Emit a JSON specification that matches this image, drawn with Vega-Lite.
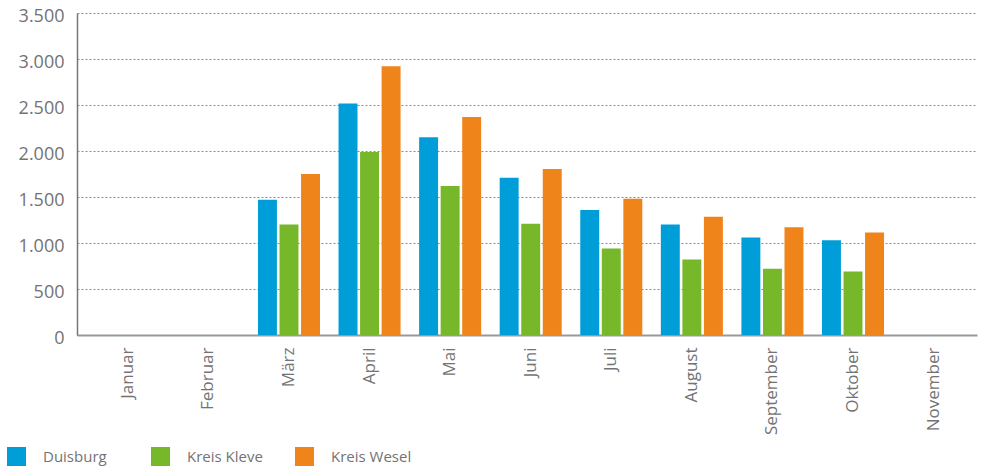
{
  "$schema": "https://vega.github.io/schema/vega-lite/v6.json",
  "width": 900,
  "height": 322,
  "autosize": {"type": "none"},
  "padding": {"left": 77, "top": 13, "right": 4, "bottom": 132},
  "background": "white",
  "config": {
    "view": {"stroke": null},
    "font": "Open Sans"
  },
  "data": {
    "values": [
      {"monat": "März", "region": "Duisburg", "wert": 1470},
      {"monat": "März", "region": "Kreis Kleve", "wert": 1200},
      {"monat": "März", "region": "Kreis Wesel", "wert": 1750},
      {"monat": "April", "region": "Duisburg", "wert": 2515},
      {"monat": "April", "region": "Kreis Kleve", "wert": 1990},
      {"monat": "April", "region": "Kreis Wesel", "wert": 2920},
      {"monat": "Mai", "region": "Duisburg", "wert": 2150},
      {"monat": "Mai", "region": "Kreis Kleve", "wert": 1620},
      {"monat": "Mai", "region": "Kreis Wesel", "wert": 2370},
      {"monat": "Juni", "region": "Duisburg", "wert": 1710},
      {"monat": "Juni", "region": "Kreis Kleve", "wert": 1210},
      {"monat": "Juni", "region": "Kreis Wesel", "wert": 1805},
      {"monat": "Juli", "region": "Duisburg", "wert": 1360},
      {"monat": "Juli", "region": "Kreis Kleve", "wert": 940},
      {"monat": "Juli", "region": "Kreis Wesel", "wert": 1480},
      {"monat": "August", "region": "Duisburg", "wert": 1200},
      {"monat": "August", "region": "Kreis Kleve", "wert": 820},
      {"monat": "August", "region": "Kreis Wesel", "wert": 1285},
      {"monat": "September", "region": "Duisburg", "wert": 1060},
      {"monat": "September", "region": "Kreis Kleve", "wert": 720},
      {"monat": "September", "region": "Kreis Wesel", "wert": 1170},
      {"monat": "Oktober", "region": "Duisburg", "wert": 1030},
      {"monat": "Oktober", "region": "Kreis Kleve", "wert": 690},
      {"monat": "Oktober", "region": "Kreis Wesel", "wert": 1115}
    ]
  },
  "mark": {"type": "bar"},
  "encoding": {
    "x": {
      "field": "monat",
      "type": "nominal",
      "sort": null,
      "scale": {
        "domain": ["Januar", "Februar", "März", "April", "Mai", "Juni", "Juli", "August", "September", "Oktober", "November"],
        "paddingInner": 0.23,
        "paddingOuter": 0.2,
        "align": 0.615
      },
      "axis": {
        "title": null,
        "labelAngle": -90,
        "labelAlign": "right",
        "labelBaseline": "middle",
        "labelFont": "Open Sans",
        "labelFontSize": 17,
        "labelColor": "#737373",
        "labelPadding": 12,
        "ticks": false,
        "tickSize": 0,
        "domainColor": "#999999",
        "domainWidth": 2,
        "grid": false
      }
    },
    "xOffset": {
      "field": "region",
      "type": "nominal",
      "scale": {"paddingInner": 0.12, "paddingOuter": 0}
    },
    "y": {
      "field": "wert",
      "type": "quantitative",
      "scale": {"domain": [0, 3500], "nice": false},
      "axis": {
        "title": null,
        "values": [0, 500, 1000, 1500, 2000, 2500, 3000, 3500],
        "format": ",d",
        "labelExpr": "replace(datum.label, ',', '.')",
        "labelFont": "Open Sans",
        "labelFontSize": 18,
        "labelColor": "#737373",
        "labelPadding": 13,
        "labelOffset": 3,
        "ticks": false,
        "tickSize": 0,
        "domainColor": "#777777",
        "domainWidth": 1.5,
        "grid": true,
        "gridColor": "#8a8a8a",
        "gridDash": [2, 2],
        "gridWidth": 1
      }
    },
    "color": {
      "field": "region",
      "type": "nominal",
      "scale": {
        "domain": ["Duisburg", "Kreis Kleve", "Kreis Wesel"],
        "range": ["#009ed8", "#77b82a", "#ef841a"]
      },
      "legend": {
        "title": null,
        "orient": "none",
        "legendX": -70,
        "legendY": 434,
        "direction": "horizontal",
        "columns": 3,
        "gridAlign": "all",
        "columnPadding": 27,
        "padding": 0,
        "symbolType": "square",
        "symbolSize": 361,
        "symbolStrokeWidth": 0,
        "labelOffset": 17,
        "labelFont": "Open Sans",
        "labelFontSize": 15,
        "labelColor": "#737373",
        "labelLimit": 200
      }
    }
  }
}
